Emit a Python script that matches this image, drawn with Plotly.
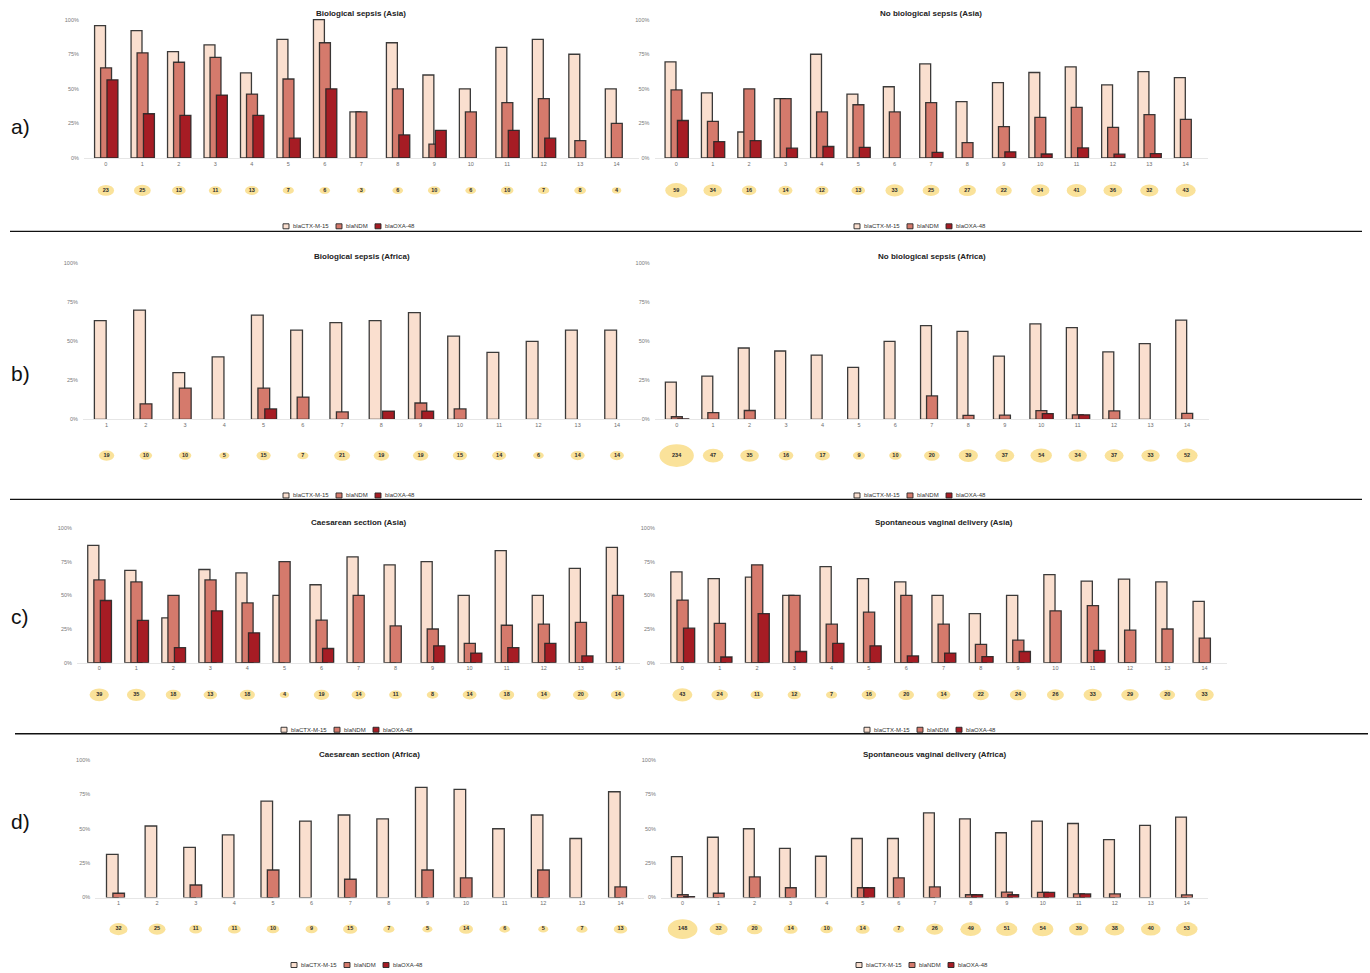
import plotly.graph_objects as go

W, H = 1370, 973

# ---------------------------------------------------------------- data
CATS_0 = [0, 1, 2, 3, 4, 5, 6, 7, 8, 9, 10, 11, 12, 13, 14]
CATS_1 = [1, 2, 3, 4, 5, 6, 7, 8, 9, 10, 11, 12, 13, 14]

GENES = ["blaCTX-M-15", "blaNDM", "blaOXA-48"]

# a) Biological sepsis (Asia)
bsa_n = [23, 25, 13, 11, 13, 7, 6, 3, 6, 10, 6, 10, 7, 8, 4]
bsa_ctx = [95.7, 92.0, 76.9, 81.8, 61.5, 85.7, 100.0, 33.3, 83.3, 60.0, 50.0, 80.0, 85.7, 75.0, 50.0]
bsa_ndm = [65.2, 76.0, 69.2, 72.7, 46.2, 57.1, 83.3, 33.3, 50.0, 10.0, 33.3, 40.0, 42.9, 12.5, 25.0]
bsa_oxa = [56.5, 32.0, 30.8, 45.5, 30.8, 14.3, 50.0, 0, 16.7, 20.0, 0, 20.0, 14.3, 0, 0]

# a) No biological sepsis (Asia)
nbsa_n = [59, 34, 16, 14, 12, 13, 33, 25, 27, 22, 34, 41, 36, 32, 43]
nbsa_ctx = [69.5, 47.1, 18.8, 42.9, 75.0, 46.2, 51.5, 68.0, 40.7, 54.5, 61.8, 65.9, 52.8, 62.5, 58.1]
nbsa_ndm = [49.2, 26.5, 50.0, 42.9, 33.3, 38.5, 33.3, 40.0, 11.1, 22.7, 29.4, 36.6, 22.2, 31.3, 27.9]
nbsa_oxa = [27.1, 11.8, 12.5, 7.1, 8.3, 7.7, 0, 4.0, 0, 4.5, 2.9, 7.3, 2.8, 3.1, 0]

# b) Biological sepsis (Africa)
bsf_n = [19, 10, 10, 5, 15, 7, 21, 19, 19, 15, 14, 6, 14, 14]
bsf_ctx = [63.2, 70.0, 30.0, 40.0, 66.7, 57.1, 61.9, 63.2, 68.4, 53.3, 42.9, 50.0, 57.1, 57.1]
bsf_ndm = [0, 10.0, 20.0, 0, 20.0, 14.3, 4.8, 0, 10.5, 6.7, 0, 0, 0, 0]
bsf_oxa = [0, 0, 0, 0, 6.7, 0, 0, 5.3, 5.3, 0, 0, 0, 0, 0]

# b) No biological sepsis (Africa)
nbsf_n = [234, 47, 35, 16, 17, 9, 10, 20, 39, 37, 54, 34, 37, 33, 52]
nbsf_ctx = [23.9, 27.7, 45.7, 43.8, 41.2, 33.3, 50.0, 60.0, 56.4, 40.5, 61.1, 58.8, 43.2, 48.5, 63.5]
nbsf_ndm = [1.7, 4.3, 5.7, 0, 0, 0, 0, 15.0, 2.6, 2.7, 5.6, 2.9, 5.4, 0, 3.8]
nbsf_oxa = [0.4, 0, 0, 0, 0, 0, 0, 0, 0, 0, 3.7, 2.9, 0, 0, 0]

# c) Caesarean section (Asia)
csa_n = [39, 35, 18, 13, 18, 4, 19, 14, 11, 8, 14, 18, 14, 20, 14]
csa_ctx = [87.2, 68.6, 33.3, 69.2, 66.7, 50.0, 57.9, 78.6, 72.7, 75.0, 50.0, 83.3, 50.0, 70.0, 85.7]
csa_ndm = [61.5, 60.0, 50.0, 61.5, 44.4, 75.0, 31.6, 50.0, 27.3, 25.0, 14.3, 27.8, 28.6, 30.0, 50.0]
csa_oxa = [46.2, 31.4, 11.1, 38.5, 22.2, 0, 10.5, 0, 0, 12.5, 7.1, 11.1, 14.3, 5.0, 0]

# c) Spontaneous vaginal delivery (Asia)
sva_n = [43, 24, 11, 12, 7, 16, 20, 14, 22, 24, 26, 33, 29, 20, 33]
sva_ctx = [67.4, 62.5, 63.6, 50.0, 71.4, 62.5, 60.0, 50.0, 36.4, 50.0, 65.4, 60.6, 62.1, 60.0, 45.5]
sva_ndm = [46.5, 29.2, 72.7, 50.0, 28.6, 37.5, 50.0, 28.6, 13.6, 16.7, 38.5, 42.4, 24.1, 25.0, 18.2]
sva_oxa = [25.6, 4.2, 36.4, 8.3, 14.3, 12.5, 5.0, 7.1, 4.5, 8.3, 0, 9.1, 0, 0, 0]

# d) Caesarean section (Africa)
csf_n = [32, 25, 11, 11, 10, 9, 15, 7, 5, 14, 6, 5, 7, 13]
csf_ctx = [31.3, 52.0, 36.4, 45.5, 70.0, 55.6, 60.0, 57.1, 80.0, 78.6, 50.0, 60.0, 42.9, 76.9]
csf_ndm = [3.1, 0, 9.1, 0, 20.0, 0, 13.3, 0, 20.0, 14.3, 0, 20.0, 0, 7.7]
csf_oxa = [0, 0, 0, 0, 0, 0, 0, 0, 0, 0, 0, 0, 0, 0]

# d) Spontaneous vaginal delivery (Africa)
svf_n = [148, 32, 20, 14, 10, 14, 7, 26, 49, 51, 54, 39, 38, 40, 53]
svf_ctx = [29.7, 43.8, 50.0, 35.7, 30.0, 42.9, 42.9, 61.5, 57.1, 47.1, 55.6, 53.8, 42.1, 52.5, 58.5]
svf_ndm = [2.0, 3.1, 15.0, 7.1, 0, 7.1, 14.3, 7.7, 2.0, 3.9, 3.7, 2.6, 2.6, 0, 1.9]
svf_oxa = [0.7, 0, 0, 0, 0, 7.1, 0, 0, 2.0, 2.0, 3.7, 2.6, 0, 0, 0]

Y_TICKS = [0, 25, 50, 75, 100]
Y_TICK_TEXT = ["0%", "25%", "50%", "75%", "100%"]
ROW_LABELS = ["a)", "b)", "c)", "d)"]

# ---------------------------------------------------------------- styling
FONT = "Liberation Sans, Arial, sans-serif"
COLORS = ["#FADFCF", "#D57A6C", "#A61C24"]
OUTLINE = "rgba(38,38,38,0.9)"
BUBBLE = "#FAE29A"
BAR_W = 0.30
OFFSETS = [-0.31, -0.145, 0.03]

# (title, cats, values, counts, x-domain px, y px of 0%, y px of 100%,
#  bubble row y px, title y px, legend y px, legend centre px)
panels = [
    ("Biological sepsis (Asia)", CATS_0, (bsa_ctx, bsa_ndm, bsa_oxa), bsa_n,
     (84, 638.5), 158.5, 19.7, 191, 14, 227, 348),
    ("No biological sepsis (Asia)", CATS_0, (nbsa_ctx, nbsa_ndm, nbsa_oxa), nbsa_n,
     (654.5, 1207.5), 158.5, 19.7, 191, 14, 227, 919),
    ("Biological sepsis (Africa)", CATS_1, (bsf_ctx, bsf_ndm, bsf_oxa), bsf_n,
     (83, 640.5), 420.7, 264, 457, 257, 497, 348),
    ("No biological sepsis (Africa)", CATS_0, (nbsf_ctx, nbsf_ndm, nbsf_oxa), nbsf_n,
     (654.8, 1208.9), 420.7, 264, 457, 257, 497, 919),
    ("Caesarean section (Asia)", CATS_0, (csa_ctx, csa_ndm, csa_oxa), csa_n,
     (77, 640), 664.7, 529.7, 697, 524, 732, 346),
    ("Spontaneous vaginal delivery (Asia)", CATS_0, (sva_ctx, sva_ndm, sva_oxa), sva_n,
     (660, 1227), 664.7, 529.7, 697, 524, 732, 929),
    ("Caesarean section (Africa)", CATS_1, (csf_ctx, csf_ndm, csf_oxa), csf_n,
     (95.3, 643.7), 900.3, 762.3, 932, 757, 968, 356),
    ("Spontaneous vaginal delivery (Africa)", CATS_0, (svf_ctx, svf_ndm, svf_oxa), svf_n,
     (661, 1208.4), 900.3, 762.3, 932, 757, 968, 921),
]


def fx(px):
    return px / W


def fy(py):
    return 1 - py / H


def bubble_size(n):
    # bubble width grows roughly with the cube root of the count
    w = 6.0 * n ** 0.32
    return w, 0.66 * w


fig = go.Figure()
layout = {}
shapes = []
annotations = []
NP = len(panels)

for i, (title, cats, vals, counts, (xl, xr), y0, y100, by, ty, ly, lc) in enumerate(panels, start=1):
    xk = "x" if i == 1 else f"x{i}"
    yk = "y" if i == 1 else f"y{i}"
    bk = f"y{i + NP}"
    xname = "xaxis" if i == 1 else f"xaxis{i}"
    yname = "yaxis" if i == 1 else f"yaxis{i}"
    bname = f"yaxis{i + NP}"

    per = (y0 - y100) / 100.0
    ytop = 102.0
    layout[xname] = dict(
        domain=[fx(xl), fx(xr)], anchor=yk,
        range=[min(cats) - 0.6, max(cats) + 0.6],
        tickmode="array", tickvals=cats, ticktext=[str(c) for c in cats],
        tickfont=dict(size=5.5, color="#6e6e6e", family=FONT),
        ticks="", showgrid=False, zeroline=False,
        showline=True, linecolor="#e6e6e6", linewidth=1, fixedrange=True,
    )
    layout[yname] = dict(
        domain=[fy(y0), fy(y0 - ytop * per)], anchor=xk,
        range=[0, ytop], tickmode="array", tickvals=Y_TICKS, ticktext=Y_TICK_TEXT,
        tickfont=dict(size=5.5, color="#7a7a7a", family=FONT),
        ticks="outside", ticklen=3, tickcolor="rgba(0,0,0,0)",
        showgrid=False, zeroline=False, showline=False, fixedrange=True,
    )
    layout[bname] = dict(
        domain=[fy(by + 16), fy(by - 16)], anchor=xk, range=[-1, 1],
        visible=False, fixedrange=True,
    )

    for gene, series, color, off in zip(GENES, vals, COLORS, OFFSETS):
        fig.add_trace(go.Bar(
            x=cats, y=[v if v > 0 else None for v in series],
            width=BAR_W, offset=off, name=gene,
            marker=dict(color=color, line=dict(color=OUTLINE, width=1.3)),
            xaxis=xk, yaxis=yk, showlegend=False,
        ))

    # sample-size bubbles
    for c, n in zip(cats, counts):
        w, h = bubble_size(n)
        shapes.append(dict(
            type="circle", xref=xk, yref=bk, xsizemode="pixel", ysizemode="pixel",
            xanchor=c, yanchor=0, x0=-w / 2, x1=w / 2, y0=-h / 2, y1=h / 2,
            fillcolor=BUBBLE, line=dict(width=0), layer="below",
        ))
    fig.add_trace(go.Scatter(
        x=cats, y=[0] * len(cats), mode="text", text=[str(n) for n in counts],
        textfont=dict(size=5.5, color="#2b2b2b", family=FONT, weight="bold"),
        xaxis=xk, yaxis=bk, showlegend=False, cliponaxis=False, hoverinfo="skip",
    ))

    # panel title
    annotations.append(dict(
        text=title, x=fx((xl + xr) / 2), y=fy(ty), xref="paper", yref="paper",
        xanchor="center", yanchor="middle", showarrow=False,
        font=dict(size=8, color="#222222", family=FONT, weight="bold"),
    ))

    # legend row under each panel
    text_w = [36, 22, 29]
    sw, gap_in, gap_out = 6, 3, 8
    total = sum(sw + gap_in + t for t in text_w) + gap_out * (len(text_w) - 1)
    xpos = lc - total / 2
    for gene, color, tw in zip(GENES, COLORS, text_w):
        shapes.append(dict(
            type="rect", xref="paper", yref="paper",
            x0=fx(xpos), x1=fx(xpos + sw), y0=fy(ly + 2.5), y1=fy(ly - 2.5),
            fillcolor=color, line=dict(color=OUTLINE, width=1),
        ))
        annotations.append(dict(
            text=gene, x=fx(xpos + sw + gap_in), y=fy(ly), xref="paper", yref="paper",
            xanchor="left", yanchor="middle", showarrow=False, borderpad=0,
            font=dict(size=6, color="#333333", family=FONT),
        ))
        xpos += sw + gap_in + tw + gap_out

# row labels
for lab, ypx in zip(ROW_LABELS, [127, 375, 618, 824]):
    annotations.append(dict(
        text=lab, x=fx(20), y=fy(ypx), xref="paper", yref="paper",
        xanchor="center", yanchor="middle", showarrow=False,
        font=dict(size=21, color="#111111", family=FONT),
    ))

# separators between rows
for ypx, x0, x1 in [(232, 10, 1362), (501, 10, 1362), (736, 15, 1368)]:
    shapes.append(dict(
        type="line", xref="paper", yref="paper",
        x0=fx(x0), x1=fx(x1), y0=fy(ypx), y1=fy(ypx),
        line=dict(color="#111111", width=1.3),
    ))

fig.update_layout(
    width=W, height=H, margin=dict(l=0, r=0, t=0, b=0),
    paper_bgcolor="white", plot_bgcolor="rgba(0,0,0,0)",
    barmode="overlay", showlegend=False, hovermode=False,
    font=dict(family=FONT),
    shapes=shapes, annotations=annotations,
    **layout,
)

fig.write_html("out.html", config={"displayModeBar": False})
